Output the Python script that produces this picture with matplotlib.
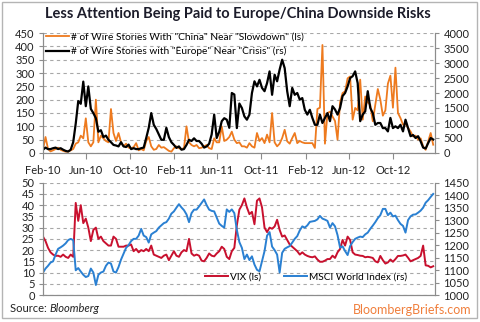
import matplotlib
matplotlib.use('Agg')
import matplotlib.pyplot as plt
import pandas as pd
from matplotlib.patches import Rectangle

plt.rcParams['font.family'] = ['Lato', 'DejaVu Sans']

# weekly counts of wire stories, Feb-2010 .. Jan-2013
china_slowdown = [
    12, 60, 15, 6, 10, 15, 20, 12, 8, 5,
    5, 10, 15, 35, 40, 65, 55, 130, 40, 25,
    40, 200, 40, 65, 55, 45, 40, 165, 75, 45,
    75, 40, 25, 35, 20, 18, 22, 37, 10, 15,
    10, 45, 60, 25, 12, 15, 30, 20, 22, 15,
    8, 5, 18, 25, 18, 15, 18, 100, 40, 30,
    25, 30, 18, 20, 25, 30, 18, 15, 55, 40,
    40, 100, 45, 50, 60, 80, 50, 37, 40, 25,
    25, 20, 37, 25, 20, 75, 45, 56, 37, 69,
    40, 150, 40, 25, 35, 56, 87, 44, 35, 56,
    75, 37, 45, 40, 37, 37, 37, 37, 19, 165,
    170, 405, 35, 150, 155, 137, 120, 50, 190, 225,
    231, 280, 287, 125, 169, 160, 275, 125, 212, 190,
    181, 119, 181, 240, 200, 140, 160, 260, 290, 170,
    320, 150, 131, 106, 110, 94, 81, 62, 65, 50,
    55, 25, 12, 44, 75, 31,
]
europe_crisis = [
    110, 180, 130, 130, 160, 180, 130, 160, 110, 70,
    50, 110, 360, 980, 1730, 1640, 2380, 1560, 2220, 1470,
    1330, 1160, 710, 760, 530, 580, 440, 360, 270, 250,
    220, 360, 220, 200, 280, 130, 160, 130, 130, 160,
    180, 500, 840, 1330, 940, 800, 620, 440, 440, 840,
    530, 360, 270, 170, 220, 110, 130, 270, 440, 400,
    490, 400, 400, 310, 180, 220, 310, 620, 1280, 500,
    710, 1060, 1160, 1110, 840, 2000, 1950, 830, 1650, 1500,
    1220, 1110, 1280, 2000, 2390, 2220, 2440, 2170, 2060, 2330,
    2720, 1940, 2610, 2390, 2780, 3110, 2830, 2060, 1560, 2170,
    1940, 2000, 1780, 1830, 1440, 1280, 1440, 1170, 940, 940,
    1280, 1000, 1170, 1330, 1060, 1560, 1450, 1280, 1500, 1900,
    2000, 2220, 2500, 2560, 2720, 2330, 1060, 1280, 1390, 2060,
    1500, 1330, 940, 1000, 1000, 830, 830, 720, 1170, 830,
    890, 830, 940, 720, 1110, 830, 560, 600, 500, 560,
    390, 180, 150, 330, 500, 450,
]
vix = [
    26, 24, 21, 19, 18, 17.4, 17.5, 17, 18, 17,
    16.5, 18, 17, 41, 33, 40, 32, 34, 30, 24,
    29, 30, 25, 26, 24, 23, 22, 22, 26, 25,
    21.5, 21.5, 21.5, 22, 22, 22.5, 19.5, 20.5, 19, 20,
    19.5, 20.5, 19.5, 22, 18, 17.5, 17, 16.5, 17.5, 18,
    15.5, 17.5, 19.5, 17.5, 17, 19, 20, 19.5, 25, 18.5,
    17.5, 18, 17.5, 15.3, 15, 16.5, 18.5, 17.5, 17.2, 18.5,
    19.5, 21.5, 20.5, 17, 16, 19.5, 21, 31, 38, 40,
    43, 39, 36, 37, 31.5, 42, 43, 39, 30, 28,
    30, 29.5, 30.5, 33.5, 29, 26, 26.5, 24.5, 22.5, 21.5,
    20.5, 19.5, 18, 19, 18, 17.4, 17, 16.8, 17.2, 15.8,
    14.8, 14.8, 15.3, 16, 16, 17.5, 16.5, 19, 20.5, 24.5,
    22, 26, 24.5, 19, 18, 17.8, 17.5, 17.4, 16.8, 17,
    16.8, 16.5, 15, 14.5, 17.4, 15.5, 14, 14.5, 15.8, 14.8,
    16, 17.4, 17.4, 17.6, 18, 16.6, 15, 15.5, 16, 16.5,
    17.4, 22, 13.2, 13, 12.3, 12.8,
]
msci_world = [
    1090, 1106, 1117, 1130, 1135, 1162, 1185, 1191, 1198, 1207,
    1220, 1225, 1220, 1099, 1108, 1094, 1081, 1072, 1076, 1106,
    1090, 1040, 1081, 1090, 1094, 1117, 1130, 1126, 1094, 1090,
    1112, 1142, 1166, 1189, 1200, 1216, 1225, 1225, 1238, 1265,
    1238, 1232, 1210, 1243, 1250, 1256, 1270, 1279, 1288, 1292,
    1306, 1326, 1335, 1350, 1364, 1351, 1340, 1323, 1292, 1328,
    1342, 1342, 1355, 1369, 1383, 1360, 1342, 1337, 1335, 1310,
    1286, 1277, 1270, 1343, 1333, 1343, 1328, 1261, 1212, 1189,
    1144, 1162, 1140, 1155, 1122, 1101, 1095, 1135, 1176, 1238,
    1252, 1194, 1180, 1162, 1090, 1169, 1185, 1191, 1196, 1210,
    1225, 1236, 1259, 1275, 1270, 1279, 1293, 1295, 1297, 1303,
    1317, 1306, 1302, 1297, 1270, 1288, 1275, 1240, 1190, 1195,
    1176, 1160, 1196, 1212, 1225, 1230, 1234, 1232, 1243, 1250,
    1265, 1278, 1292, 1308, 1320, 1345, 1345, 1320, 1330, 1315,
    1318, 1300, 1285, 1277, 1250, 1300, 1315, 1322, 1323, 1330,
    1338, 1350, 1370, 1380, 1393, 1405,
]
tick_labels = ['Feb-10', 'Jun-10', 'Oct-10', 'Feb-11', 'Jun-11',
               'Oct-11', 'Feb-12', 'Jun-12', 'Oct-12']

dates = pd.date_range('2010-02-01', periods=len(china_slowdown), freq='7D')
tick_pos = pd.to_datetime(tick_labels, format='%b-%y')
xmin, xmax = pd.Timestamp('2010-02-01'), pd.Timestamp('2013-01-26')

ORANGE = '#EE7A1E'
RED = '#C8102E'
BLUE = '#2A80D2'
AXIS = '#8C8C8C'
GRID = '#A8A8A8'
TXT = '#222222'
FS = 8
LFS = 7.3

W, H = 480, 322
fig = plt.figure(figsize=(W / 100, H / 100), dpi=100)


def style(ax):
    ax.spines['top'].set_visible(False)
    for s in ['left', 'right', 'bottom']:
        ax.spines[s].set_color(AXIS)
        ax.spines[s].set_linewidth(0.8)
    ax.tick_params(axis='y', labelsize=FS, colors=TXT, length=3, width=0.8,
                   pad=3, color=AXIS)


# top panel: story counts
ax1 = fig.add_axes([43 / W, 1 - 153 / H, 392 / W, 120 / H])
ax2 = ax1.twinx()
ax1.plot(dates, china_slowdown, color=ORANGE, lw=1.3,
         label='# of Wire Stories With "China" Near "Slowdown" (ls)')
ax2.plot(dates, europe_crisis, color='black', lw=1.6,
         label='# of Wire Stories with "Europe" Near "Crisis" (rs)')
ax1.set_ylim(0, 450)
ax1.set_yticks(range(0, 451, 50))
ax2.set_ylim(0, 4000)
ax2.set_yticks(range(0, 4001, 500))
ax1.set_xlim(xmin, xmax)
ax1.set_xticks(tick_pos)
ax1.set_xticklabels(tick_labels)
ax1.tick_params(axis='x', labelsize=FS, colors=TXT, length=4, width=0.8,
                pad=5, color=AXIS)
ax1.yaxis.grid(True, linestyle=(0, (3, 3)), color=GRID, lw=0.8)
ax1.set_axisbelow(True)
style(ax1)
style(ax2)

h1, l1 = ax1.get_legend_handles_labels()
h2, l2 = ax2.get_legend_handles_labels()
ax2.legend(h1 + h2, l1 + l2, loc='upper left',
           bbox_to_anchor=(46 / W, 1 - 32 / H), bbox_transform=fig.transFigure,
           frameon=False, fontsize=LFS, handlelength=2.3, handletextpad=0.2,
           labelspacing=0.55, borderpad=0, borderaxespad=0)

# bottom panel: VIX vs MSCI World
ax3 = fig.add_axes([43 / W, 1 - 295 / H, 392 / W, 112.3 / H])
ax4 = ax3.twinx()
ax3.plot(dates, vix, color=RED, lw=1.4, label='VIX (ls)')
ax4.plot(dates, msci_world, color=BLUE, lw=1.4, label='MSCI World Index (rs)')
ax3.set_ylim(0, 50)
ax3.set_yticks(range(0, 51, 5))
ax4.set_ylim(1000, 1450)
ax4.set_yticks(range(1000, 1451, 50))
ax3.set_xlim(xmin, xmax)
ax3.tick_params(axis='x', length=0, labelbottom=False)
ax3.yaxis.grid(True, linestyle=(0, (3, 3)), color=GRID, lw=0.8)
ax3.set_axisbelow(True)
style(ax3)
style(ax4)

h3, l3 = ax3.get_legend_handles_labels()
h4, l4 = ax4.get_legend_handles_labels()
ax4.legend(h3 + h4, l3 + l4, loc='center left', ncol=2,
           bbox_to_anchor=(205 / W, 1 - 277 / H), bbox_transform=fig.transFigure,
           frameon=False, fontsize=LFS, handlelength=2.3, handletextpad=0.2,
           columnspacing=2.2, borderpad=0, borderaxespad=0)

fig.text(238 / W, 1 - 14 / H, 'Less Attention Being Paid to Europe/China Downside Risks',
         ha='center', va='center', fontsize=10.5, fontweight='bold', color='#1C1C2A')

# source line: plain prefix followed by italic name
src = fig.text(10 / W, 1 - 309 / H, 'Source: ', ha='left', va='center',
               fontsize=FS, color=TXT)
fig.canvas.draw()
bb = src.get_window_extent(renderer=fig.canvas.get_renderer())
fig.text(bb.x1 / W, 1 - 309 / H, 'Bloomberg', ha='left', va='center',
         fontsize=FS, style='italic', color=TXT)

fig.text(472 / W, 1 - 310 / H, 'BloombergBriefs.com', ha='right', va='center',
         fontsize=9, color='#F07F3C')

fig.add_artist(Rectangle((2 / W, 4 / H), 475 / W, 316 / H, transform=fig.transFigure,
                         fill=False, edgecolor='#B4B4B4', lw=1))

fig.savefig('out.png', dpi=100)
